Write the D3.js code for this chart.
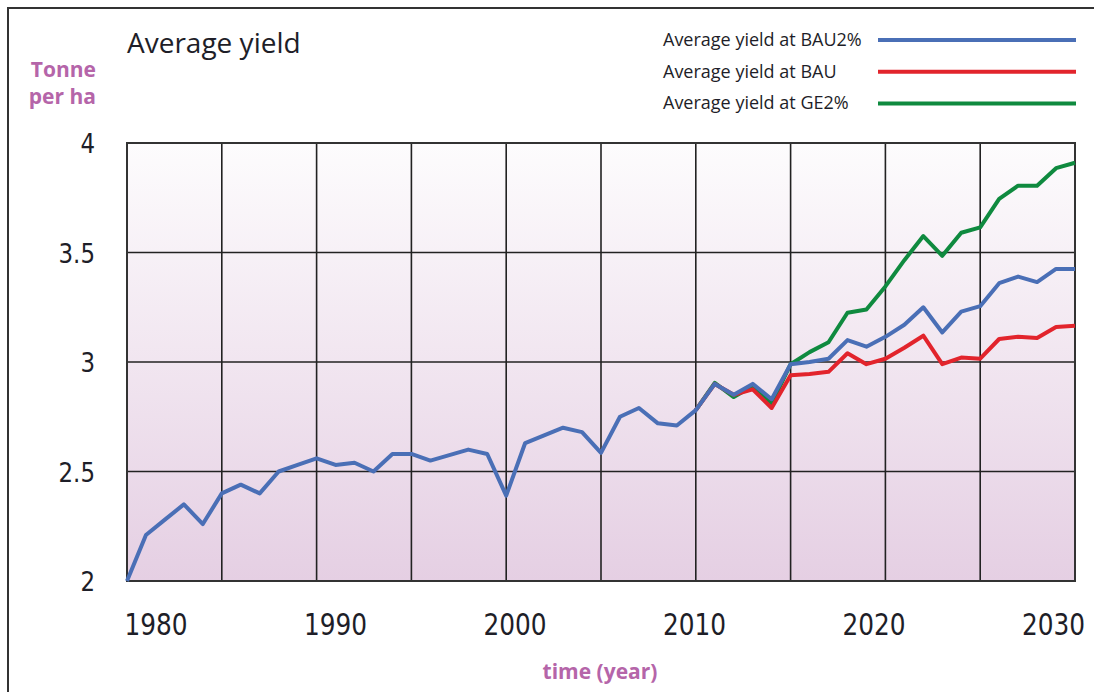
<html>

<head>
  <script src="https://cdn.jsdelivr.net/npm/d3@7/dist/d3.min.js"></script>
  <style>
    body { margin: 0; background: #fff; }
  </style>
  <script>
    // yield history, shared by every scenario (1980 - 2010)
    var histYears = d3.range(1980, 2011);
    var pastYield = [2.00, 2.21, 2.28, 2.35, 2.26, 2.40, 2.44, 2.40, 2.50, 2.53,
      2.56, 2.53, 2.54, 2.50, 2.58, 2.58, 2.55, 2.575, 2.60, 2.58,
      2.39, 2.63, 2.665, 2.70, 2.68, 2.585, 2.75, 2.79, 2.72, 2.71, 2.78];

    // projections 2011 - 2030
    var projYears = d3.range(2011, 2031);
    var bau2 = [2.90, 2.85, 2.90, 2.83, 2.99, 3.00, 3.015, 3.10, 3.07, 3.115,
      3.17, 3.25, 3.135, 3.23, 3.255, 3.36, 3.39, 3.365, 3.425, 3.425];
    var bau = [2.90, 2.85, 2.875, 2.79, 2.94, 2.945, 2.955, 3.04, 2.99, 3.015,
      3.065, 3.12, 2.99, 3.02, 3.015, 3.105, 3.115, 3.11, 3.16, 3.165];
    var ge2 = [2.905, 2.84, 2.89, 2.81, 2.99, 3.045, 3.09, 3.225, 3.24, 3.345,
      3.465, 3.575, 3.485, 3.59, 3.615, 3.745, 3.805, 3.805, 3.885, 3.91];

    var yTicks = [2, 2.5, 3, 3.5, 4];
    var xTickLabels = [1980, 1990, 2000, 2010, 2020, 2030];
    var gridYears = d3.range(1980, 2031, 5);

    var seriesNames = ["Average yield at BAU2%", "Average yield at BAU", "Average yield at GE2%"];
    var seriesColors = ["#4a6fb6", "#e2242c", "#0f8a3f"];

    window.onload = function () {
      var svg = d3.select("body").append("svg").attr("width", 1094).attr("height", 692);

      var plotLeft = 127, plotRight = 1075, plotTop = 143, plotBottom = 581;
      var x = d3.scaleLinear().domain([1980, 2030]).range([plotLeft, plotRight]);
      var y = d3.scaleLinear().domain([2, 4]).range([plotBottom, plotTop]);
      // year labels in the source sit on their own, slightly narrower spacing
      var xLabel = d3.scaleLinear().domain([1980, 2030]).range([156, 1053.5]);

      var purple = "#b565a9";
      var ink = "#1e1e28";

      // outer frame (only top and left edges are in view)
      svg.append("rect")
        .attr("x", 8).attr("y", 8).attr("width", 1300).attr("height", 900)
        .attr("fill", "none").attr("stroke", "#333").attr("stroke-width", 2);

      var grad = svg.append("defs").append("linearGradient")
        .attr("id", "bg").attr("x1", 0).attr("y1", 0).attr("x2", 0).attr("y2", 1);
      grad.append("stop").attr("offset", "0%").attr("stop-color", "#fdfcfd");
      grad.append("stop").attr("offset", "100%").attr("stop-color", "#e5cfe3");

      svg.append("rect")
        .attr("x", plotLeft).attr("y", plotTop)
        .attr("width", plotRight - plotLeft).attr("height", plotBottom - plotTop)
        .attr("fill", "url(#bg)");

      // grid
      svg.append("g")
        .selectAll("line")
        .data(gridYears)
        .enter().append("line")
        .attr("x1", function (d) { return x(d); })
        .attr("x2", function (d) { return x(d); })
        .attr("y1", plotTop).attr("y2", plotBottom)
        .attr("stroke", "#222").attr("stroke-width", 1.6);

      svg.append("g")
        .selectAll("line")
        .data(yTicks)
        .enter().append("line")
        .attr("x1", plotLeft).attr("x2", plotRight)
        .attr("y1", function (d) { return y(d); })
        .attr("y2", function (d) { return y(d); })
        .attr("stroke", "#222").attr("stroke-width", 1.6);

      svg.append("rect")
        .attr("x", plotLeft).attr("y", plotTop)
        .attr("width", plotRight - plotLeft).attr("height", plotBottom - plotTop)
        .attr("fill", "none").attr("stroke", "#333").attr("stroke-width", 2);

      // tick labels, squeezed a little to look like the condensed face
      var tickFont = "'DejaVu Sans', sans-serif";
      svg.append("g")
        .selectAll("text")
        .data(yTicks)
        .enter().append("text")
        .attr("transform", function (d) { return "translate(95," + (y(d) + 10) + ") scale(0.85,1)"; })
        .attr("text-anchor", "end")
        .attr("font-family", tickFont)
        .attr("font-size", 27)
        .attr("fill", ink)
        .text(function (d) { return d; });

      svg.append("g")
        .selectAll("text")
        .data(xTickLabels)
        .enter().append("text")
        .attr("transform", function (d) { return "translate(" + xLabel(d) + ",635) scale(0.8,1)"; })
        .attr("text-anchor", "middle")
        .attr("font-family", tickFont)
        .attr("font-size", 31)
        .attr("fill", ink)
        .text(function (d) { return d; });

      // titles
      svg.append("text")
        .attr("x", 127).attr("y", 53)
        .attr("font-family", "'Open Sans', sans-serif")
        .attr("font-size", 28)
        .attr("fill", ink)
        .text("Average yield");

      svg.append("text")
        .attr("x", 96).attr("y", 77)
        .attr("text-anchor", "end")
        .attr("font-family", "'Open Sans', sans-serif")
        .attr("font-weight", "bold")
        .attr("font-size", 21)
        .attr("fill", purple)
        .text("Tonne");
      svg.append("text")
        .attr("x", 96).attr("y", 104)
        .attr("text-anchor", "end")
        .attr("font-family", "'Open Sans', sans-serif")
        .attr("font-weight", "bold")
        .attr("font-size", 21)
        .attr("fill", purple)
        .text("per ha");

      svg.append("text")
        .attr("x", 600).attr("y", 679)
        .attr("text-anchor", "middle")
        .attr("font-family", "'Open Sans', sans-serif")
        .attr("font-weight", "bold")
        .attr("font-size", 21)
        .attr("fill", purple)
        .text("time (year)");

      // lines
      var line = d3.line()
        .x(function (d) { return x(d[0]); })
        .y(function (d) { return y(d[1]); });

      var lastYear = histYears[histYears.length - 1];
      var lastVal = pastYield[pastYield.length - 1];
      function proj(vals) {
        return [[lastYear, lastVal]].concat(projYears.map(function (yr, i) { return [yr, vals[i]]; }));
      }
      var histPts = histYears.map(function (yr, i) { return [yr, pastYield[i]]; });

      // draw order: green, red, then blue on top
      var lines = [
        { pts: proj(ge2), color: seriesColors[2] },
        { pts: proj(bau), color: seriesColors[1] },
        { pts: histPts.concat(proj(bau2).slice(1)), color: seriesColors[0] }
      ];

      svg.append("g")
        .selectAll("path")
        .data(lines)
        .enter().append("path")
        .attr("d", function (d) { return line(d.pts); })
        .attr("fill", "none")
        .attr("stroke", function (d) { return d.color; })
        .attr("stroke-width", 4)
        .attr("stroke-linejoin", "round");

      // legend
      var legend = svg.append("g")
        .selectAll("g")
        .data(seriesNames)
        .enter().append("g")
        .attr("transform", function (d, i) { return "translate(0," + (40 + i * 31.7) + ")"; });

      legend.append("text")
        .attr("x", 663).attr("y", 6)
        .attr("font-family", "'Open Sans', sans-serif")
        .attr("font-size", 18)
        .attr("fill", ink)
        .text(function (d) { return d; });

      legend.append("line")
        .attr("x1", 878).attr("x2", 1076)
        .attr("y1", 0).attr("y2", 0)
        .attr("stroke", function (d, i) { return seriesColors[i]; })
        .attr("stroke-width", 4);
    };
  </script>
</head>

<body>
</body>

</html>
